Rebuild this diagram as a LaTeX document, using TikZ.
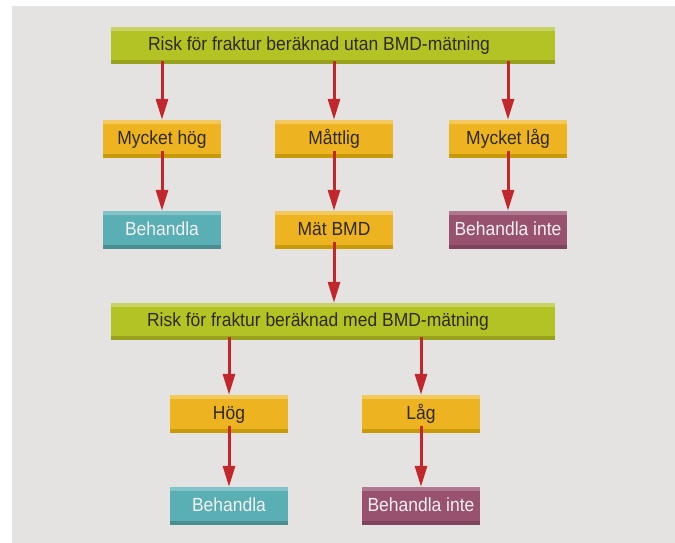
\documentclass[tikz,border=0pt]{standalone}
\usepackage{fontspec}
\setmainfont[FakeStretch=0.92]{Liberation Sans}
\usetikzlibrary{arrows.meta}
\definecolor{bg}{HTML}{E4E3E1}
\definecolor{grnM}{HTML}{B4C324}
\definecolor{grnL}{HTML}{C9D264}
\definecolor{grnD}{HTML}{98A21C}
\definecolor{yelM}{HTML}{EEB320}
\definecolor{yelL}{HTML}{F3C85C}
\definecolor{yelD}{HTML}{C89A0A}
\definecolor{teaM}{HTML}{5AAFB5}
\definecolor{teaL}{HTML}{82C3C7}
\definecolor{teaD}{HTML}{4A8E90}
\definecolor{purM}{HTML}{98526F}
\definecolor{purL}{HTML}{AE7891}
\definecolor{purD}{HTML}{7E445D}
\definecolor{arr}{HTML}{C1272D}
\definecolor{txtD}{HTML}{2E2A1A}
\definecolor{txtW}{HTML}{F2F0F0}
\tikzset{
  bx/.style n args={3}{rectangle, minimum width=118pt, minimum height=38pt, inner sep=0pt,
    text height=13pt, text depth=3pt, font=\fontsize{19}{22}\selectfont, fill=#1,
    path picture={
      \fill[#2] (path picture bounding box.north west) rectangle ([yshift=-4pt]path picture bounding box.north east);
      \fill[#3] (path picture bounding box.south west) rectangle ([yshift=4pt]path picture bounding box.south east);}},
  yel/.style={bx={yelM}{yelL}{yelD}, text=txtD},
  tea/.style={bx={teaM}{teaL}{teaD}, text=txtW},
  pur/.style={bx={purM}{purL}{purD}, text=txtW},
  bar/.style={bx={grnM}{grnL}{grnD}, minimum width=444pt, minimum height=37pt},
  bartext/.style={text=txtD, inner sep=0pt, text height=13pt, text depth=3pt, font=\fontsize{19}{22}\selectfont},
  conn/.style={draw=arr, line width=3pt, -{Triangle[length=21pt,width=12pt]}}
}
\begin{document}
\begin{tikzpicture}[x=1pt,y=-1pt]
\useasboundingbox (0,0) rectangle (675,543);
\fill[bg] (12,6) rectangle (675,543);
% top bar
\node[bar] (b1) at (333,45.5) {};
\node[bartext] (t1) at (319,45.5) {Risk för fraktur beräknad utan BMD-mätning};
% level 1
\node[yel] (mh) at (162,139) {Mycket hög};
\node[yel] (mt) at (334,139) {Måttlig};
\node[yel] (ml) at (508,139) {Mycket låg};
% level 2
\node[tea] (beh1) at (162,230) {Behandla};
\node[yel] (mat) at (334,230) {Mät BMD};
\node[pur] (bi1) at (508,230) {Behandla inte};
% second bar
\node[bar] (b2) at (333,321.5) {};
\node[bartext] (t2) at (318,321.5) {Risk för fraktur beräknad med BMD-mätning};
% level 3
\node[yel] (hog) at (229,414) {Hög};
\node[yel] (lag) at (421,414) {Låg};
% level 4
\node[tea] (beh2) at (229,506) {Behandla};
\node[pur] (bi2) at (421,506) {Behandla inte};
% connectors
\draw[conn] ([yshift=3pt]b1.south -| mh.north) -- (mh.north);
\draw[conn] ([yshift=3pt]b1.south -| mt.north) -- (mt.north);
\draw[conn] ([yshift=3pt]b1.south -| ml.north) -- (ml.north);
\draw[conn] ([yshift=7pt]mh.south) -- (beh1.north);
\draw[conn] ([yshift=7pt]mt.south) -- (mat.north);
\draw[conn] ([yshift=7pt]ml.south) -- (bi1.north);
\draw[conn] ([yshift=7pt]mat.south) -- (mat.south |- b2.north);
\draw[conn] ([yshift=3pt]b2.south -| hog.north) -- (hog.north);
\draw[conn] ([yshift=3pt]b2.south -| lag.north) -- (lag.north);
\draw[conn] ([yshift=7pt]hog.south) -- (beh2.north);
\draw[conn] ([yshift=7pt]lag.south) -- (bi2.north);
\end{tikzpicture}
\end{document}
